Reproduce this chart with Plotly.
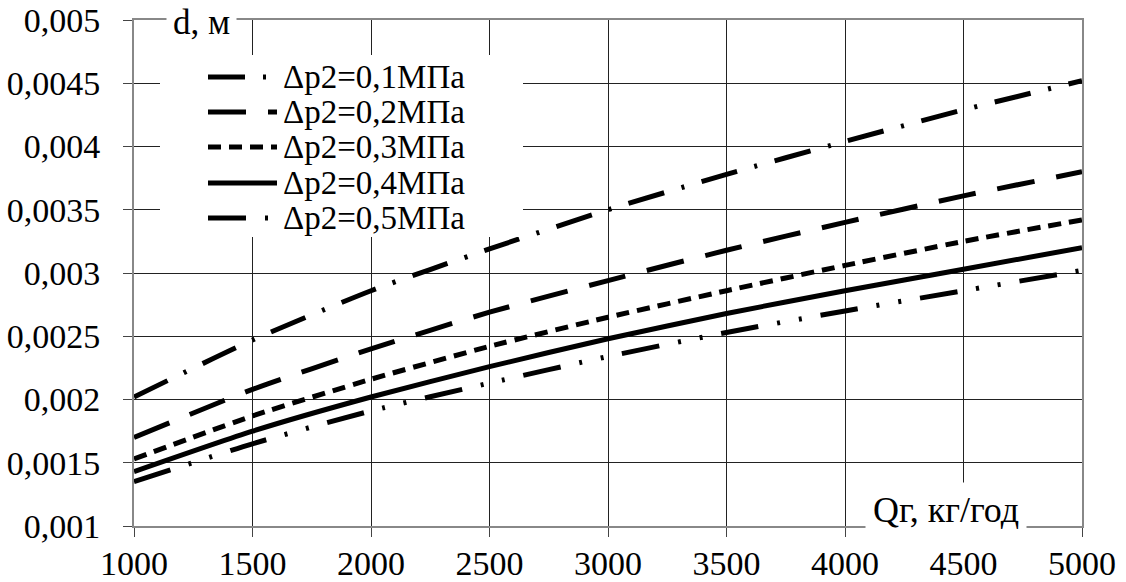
import plotly.graph_objects as go

# ---- data ----
q = [1000, 1500, 2000, 2500, 3000, 3500, 4000, 4500, 5000]
d_01 = [0.00202, 0.00247, 0.00286, 0.00319, 0.00350, 0.00378, 0.00404, 0.00429, 0.00452]
d_02 = [0.00170, 0.00208, 0.00240, 0.00269, 0.00294, 0.00318, 0.00340, 0.00361, 0.00380]
d_03 = [0.00153, 0.00187, 0.00216, 0.00242, 0.00265, 0.00286, 0.00306, 0.00325, 0.00342]
d_04 = [0.00143, 0.00175, 0.00202, 0.00226, 0.00248, 0.00268, 0.00286, 0.00303, 0.00320]
d_05 = [0.00135, 0.00165, 0.00191, 0.00213, 0.00234, 0.00253, 0.00270, 0.00286, 0.00302]
series_names = ["Δp2=0,1МПа", "Δp2=0,2МПа", "Δp2=0,3МПа", "Δp2=0,4МПа", "Δp2=0,5МПа"]
y_tickvals = [0.001, 0.0015, 0.002, 0.0025, 0.003, 0.0035, 0.004, 0.0045, 0.005]
y_ticktext = ["0,001", "0,0015", "0,002", "0,0025", "0,003", "0,0035", "0,004", "0,0045", "0,005"]
x_tickvals = [1000, 1500, 2000, 2500, 3000, 3500, 4000, 4500, 5000]
x_ticktext = ["1000", "1500", "2000", "2500", "3000", "3500", "4000", "4500", "5000"]
y_title = "d, м"
x_title = "Qг, кг/год"

series = [d_01, d_02, d_03, d_04, d_05]
dashes = [
    "37px,18px,3px,18px",
    "38px,22px",
    "13px,8px",
    "solid",
    "38px,19px,3px,19px,3px,19px",
]
LW = 5
FONT = "Liberation Serif"

W, H = 1126, 582
PL, PT, PR, PB = 134, 20, 1082, 526          # plot area in pixels
L, T, R, B = PL, PT, W - PR, H - PB
PW, PH = PR - PL, PB - PT


def px_x(x):
    return (x - PL) / PW


def px_y(y):
    return 1 - (y - PT) / PH


fig = go.Figure()
for name, vals, dash in zip(series_names, series, dashes):
    fig.add_trace(go.Scatter(
        x=q, y=vals, mode="lines", name=name, showlegend=False,
        line=dict(color="black", width=LW, dash=dash, shape="spline", smoothing=0.6),
    ))

shapes = []
annotations = []
# legend background
shapes.append(dict(type="rect", xref="paper", yref="paper",
                   x0=px_x(160), x1=px_x(523), y0=px_y(237), y1=px_y(55),
                   fillcolor="white", line=dict(width=0), layer="above"))
leg_y = [77, 112, 147, 183, 218]
for name, dash, yy in zip(series_names, dashes, leg_y):
    shapes.append(dict(type="line", xref="paper", yref="paper",
                       x0=px_x(208), x1=px_x(277), y0=px_y(yy), y1=px_y(yy),
                       line=dict(color="black", width=LW, dash=dash), layer="above"))
    annotations.append(dict(text=name, xref="paper", yref="paper",
                            x=px_x(281), y=px_y(yy), xanchor="left", yanchor="middle",
                            showarrow=False, font=dict(family=FONT, size=33, color="black")))

# axis titles with white boxes
annotations.append(dict(text=y_title, xref="paper", yref="paper",
                        x=px_x(201), y=px_y(23), xanchor="center", yanchor="middle",
                        showarrow=False, bgcolor="white", borderpad=6,
                        font=dict(family=FONT, size=35, color="black")))
annotations.append(dict(text=x_title, xref="paper", yref="paper",
                        x=px_x(946), y=px_y(510), xanchor="center", yanchor="middle",
                        showarrow=False, bgcolor="white", borderpad=7,
                        font=dict(family=FONT, size=36, color="black")))

axis_common = dict(
    showgrid=True, gridcolor="#222", gridwidth=1,
    showline=True, linecolor="#888", linewidth=2, mirror=True,
    ticks="outside", ticklen=9, tickcolor="#444", tickwidth=1,
    zeroline=False, ticklabeloverflow="allow",
)

fig.update_layout(
    width=W, height=H,
    margin=dict(l=L, r=R, t=T, b=B, autoexpand=False),
    paper_bgcolor="white", plot_bgcolor="white",
    showlegend=False,
    shapes=shapes, annotations=annotations,
    xaxis=dict(range=[1000, 5000], tickvals=x_tickvals, ticktext=x_ticktext,
               ticklabelstandoff=-3, tickfont=dict(family=FONT, size=34, color="black"),
               **axis_common),
    yaxis=dict(range=[0.001, 0.005], tickvals=y_tickvals, ticktext=y_ticktext,
               ticklabelstandoff=16, tickfont=dict(family=FONT, size=34, color="black"),
               **axis_common),
)

# remove the browser's default 8px page margin so the figure fills the window exactly
fig.write_html("out.html", config={"displayModeBar": False},
               post_script="document.body.style.margin='0';")
